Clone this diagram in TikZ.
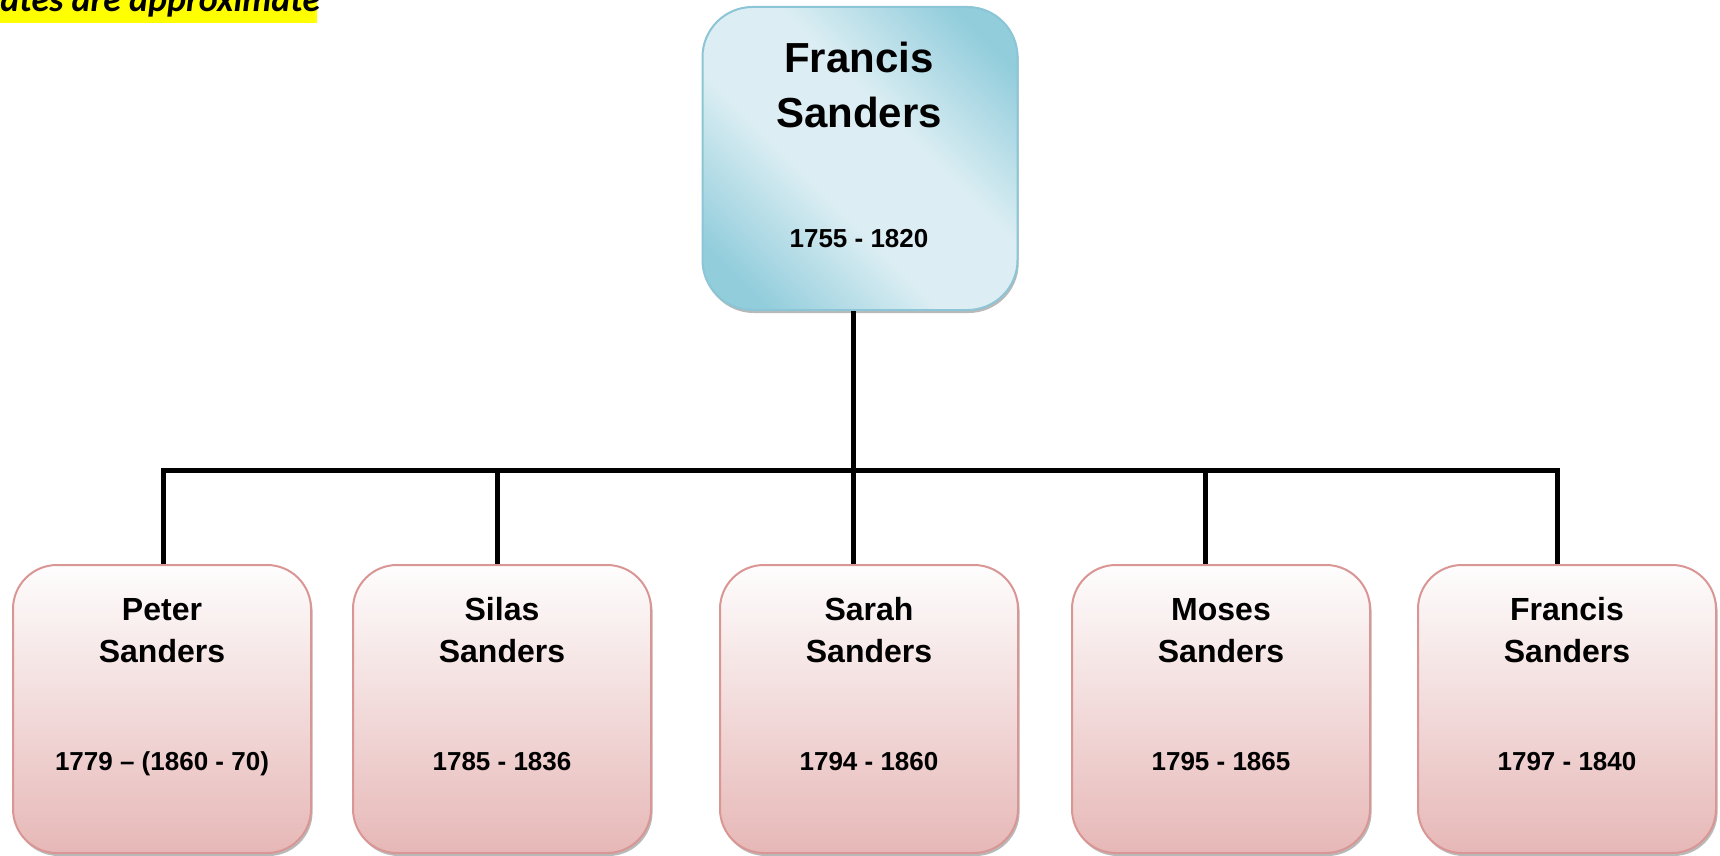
\documentclass[tikz,border=0pt]{standalone}
\usepackage{fontspec}
\setmainfont{Liberation Sans}
\newfontfamily\notefont{Carlito}
\usetikzlibrary{shadows,calc}
\definecolor{bluedk}{HTML}{92CDDC}
\definecolor{bluelt}{HTML}{DCEEF3}
\definecolor{blueedge}{HTML}{8CC5D6}
\definecolor{pinktop}{HTML}{FEFDFD}
\definecolor{pinkbot}{HTML}{E6B8B7}
\definecolor{pinkedge}{HTML}{D99694}
\definecolor{hl}{HTML}{FFFF00}
\pgfdeclarehorizontalshading{bluerefl}{100bp}{color(0bp)=(bluedk); color(22bp)=(bluedk); color(42bp)=(bluelt); color(58bp)=(bluelt); color(78bp)=(bluedk); color(100bp)=(bluedk)}
\begin{document}
\begin{tikzpicture}[x=0.5pt,y=-0.5pt,
  parentbox/.style={draw=blueedge, line width=1pt, rounded corners=25pt,
    minimum width=157.5pt, minimum height=151.5pt, inner sep=0pt,
    shading=bluerefl, shading angle=45,
    drop shadow={shadow xshift=0.6pt, shadow yshift=-1.5pt, fill=black!50, opacity=0.55}},
  childbox/.style={draw=pinkedge, line width=1pt, rounded corners=22pt,
    minimum width=149pt, minimum height=144pt, inner sep=0pt,
    top color=pinktop, bottom color=pinkbot,
    drop shadow={shadow xshift=0.8pt, shadow yshift=-1.5pt, fill=black!50, opacity=0.55}},
  bignametext/.style={font=\bfseries\fontsize{21}{25}\selectfont, anchor=base, inner sep=0pt},
  childnametext/.style={font=\bfseries\fontsize{16}{19}\selectfont, anchor=base, inner sep=0pt},
  datetext/.style={font=\bfseries\fontsize{13}{15}\selectfont, anchor=base, inner sep=0pt},
  notetextstyle/.style={font=\notefont\bfseries\itshape\fontsize{18}{21}\selectfont, anchor=base west, inner sep=0pt},
  conn/.style={line width=2.5pt, black, line join=miter}
]
\useasboundingbox (0,0) rectangle (1720,856);

% note
\fill[hl] (0,0) rectangle (317,23);
\node[notetextstyle] (notetext) at (0,12) {ates are approximate};

% parent
\node[parentbox] (parent) at (860,158.5) {};
\node[bignametext] (pn1) at (859,73) {Francis};
\node[bignametext] (pn2) at (859,128) {Sanders};
\node[datetext] (pd) at (859,248) {1755 - 1820};

% children
\foreach \i/\cx/\first/\dt in {1/162/Peter/{1779 – (1860 - 70)},2/502/Silas/{1785 - 1836},3/869/Sarah/{1794 - 1860},4/1221/Moses/{1795 - 1865},5/1567/Francis/{1797 - 1840}}{
  \node[childbox] (c\i) at (\cx,709) {};
  \node[childnametext] (c\i n1) at (\cx,620) {\first};
  \node[childnametext] (c\i n2) at (\cx,662) {Sanders};
  \node[datetext] (c\i d) at (\cx,770) {\dt};
}

% connectors
\coordinate (pdrop) at (853,470);
\coordinate (bar1) at (163,470);
\coordinate (bar2) at (497,470);
\coordinate (bar3) at (853,470);
\coordinate (bar4) at (1205,470);
\coordinate (bar5) at (1557,470);
\draw[conn] (pdrop |- parent.south) -- (pdrop);
\draw[conn] (bar1 |- c1.north) -- (bar1) -- (bar5) -- (bar5 |- c5.north);
\foreach \i in {2,3,4}{
  \draw[conn] (bar\i) -- (bar\i |- c\i.north);
}
\end{tikzpicture}
\end{document}
